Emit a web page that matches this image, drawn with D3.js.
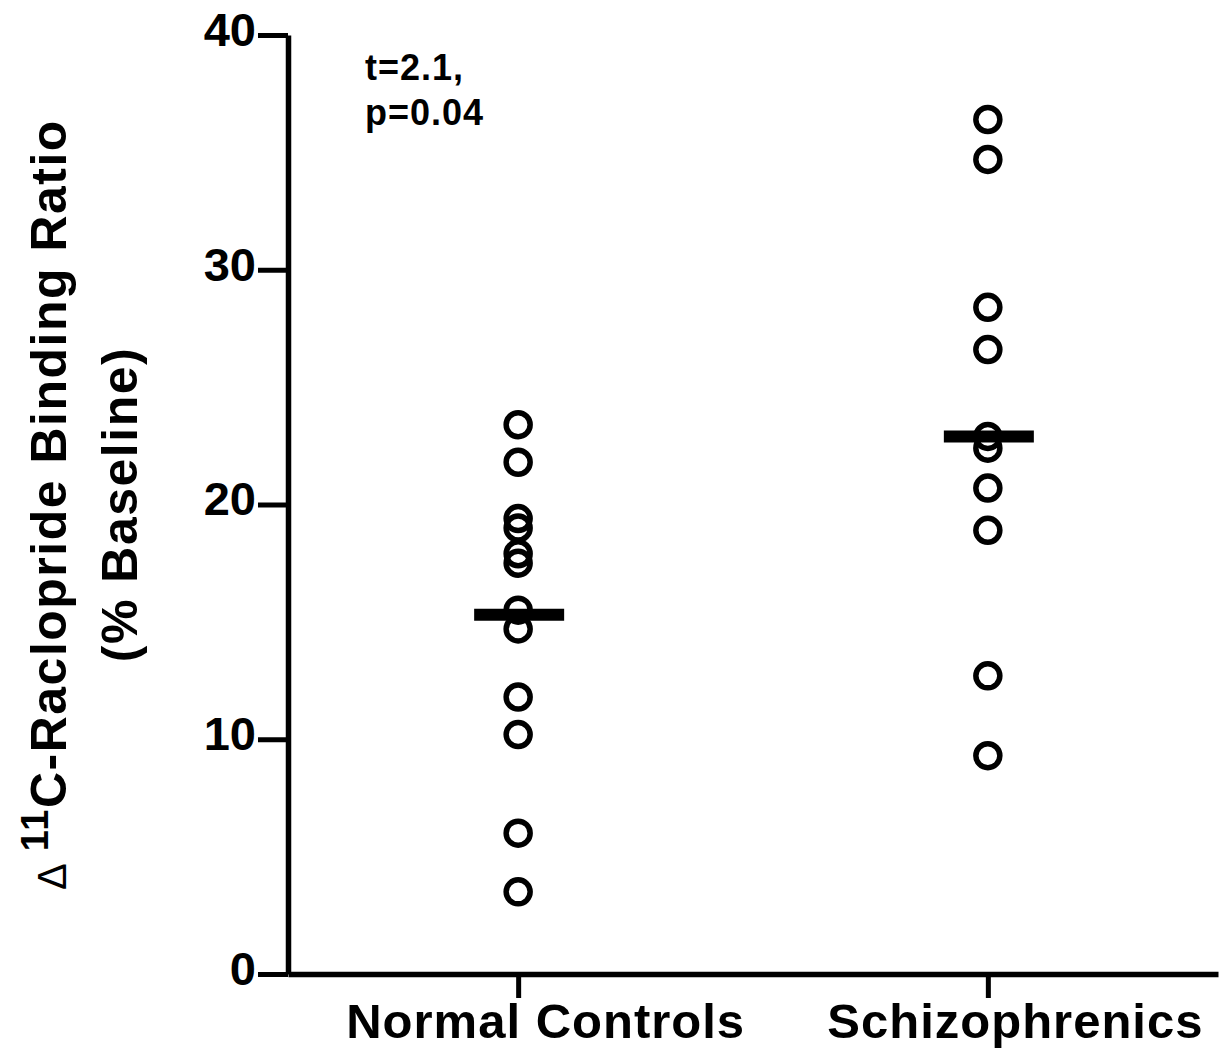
<html>
<head>
<title>Raclopride binding</title>
<style>
body {
	margin: 0;
	background: white;
	font-family: 'Liberation Sans', Arial, Helvetica, sans-serif;
}
svg {
	display: block;
}
.axis path, .axis line {
	stroke: black;
}
.axis text {
	fill: black;
	font-weight: bold;
}
</style>
</head>
<body>
<svg width="1219" height="1059"></svg>
<script src="https://d3js.org/d3.v7.min.js"></script>
<script>
// Data
const groups = ["Normal Controls", "Schizophrenics"];
const normalControls = [23.4, 21.8, 19.4, 19.0, 17.9, 17.5, 15.5, 14.7, 11.8, 10.2, 6.0, 3.5];
const schizophrenics = [36.4, 34.7, 28.4, 26.6, 22.9, 22.4, 20.7, 18.9, 12.7, 9.3];
const groupMeans = [15.3, 22.9];
const yTicks = [0, 10, 20, 30, 40];
const statLines = ["t=2.1,", "p=0.04"];

let svg = d3.select("svg");

// scales
let x = d3.scalePoint().domain(groups).range([288, 1218]).padding(0.49);
let y = d3.scaleLinear().domain([0, 40]).range([974, 35]);

// flatten points
let points = [];
normalControls.forEach(function(v) { points.push({group: groups[0], value: v}); });
schizophrenics.forEach(function(v) { points.push({group: groups[1], value: v}); });

// x axis
let xAxis = svg.append("g")
	.attr("class", "axis")
	.attr("transform", "translate(0," + y(0) + ")")
	.call(d3.axisBottom(x).tickSize(24).tickSizeOuter(0).tickPadding(5));
xAxis.select(".domain").attr("stroke-width", 5.5);
xAxis.selectAll(".tick line").attr("stroke-width", 5);
xAxis.selectAll(".tick text")
	.attr("font-size", 49)
	.attr("letter-spacing", 1)
	.attr("dx", 27);

// y axis
let yAxis = svg.append("g")
	.attr("class", "axis")
	.attr("transform", "translate(" + x.range()[0] + ",0)")
	.call(d3.axisLeft(y).tickValues(yTicks).tickSize(30).tickSizeOuter(0).tickPadding(2));
yAxis.select(".domain").attr("stroke-width", 5.5);
yAxis.selectAll(".tick line").attr("stroke-width", 5);
yAxis.selectAll(".tick text")
	.attr("font-size", 47)
	.attr("dy", "0.22em");

// y axis title
let midY = (y(0) + y(40)) / 2;
let title = svg.append("text")
	.attr("transform", "translate(66," + midY + ") rotate(-90)")
	.attr("text-anchor", "middle")
	.attr("font-weight", "bold")
	.attr("font-size", 50)
	.attr("letter-spacing", 1.5);
title.append("tspan").attr("font-weight", "normal").attr("font-size", 40).text("\u0394 ");
title.append("tspan").attr("font-size", 38).attr("dy", -18).text("11");
title.append("tspan").attr("dy", 18).text("C-Raclopride Binding Ratio");

svg.append("text")
	.attr("transform", "translate(137," + midY + ") rotate(-90)")
	.attr("text-anchor", "middle")
	.attr("font-weight", "bold")
	.attr("font-size", 50)
	.attr("letter-spacing", 1.5)
	.text("(% Baseline)");

// t-test annotation
svg.selectAll(".stat")
	.data(statLines)
	.enter()
	.append("text")
	.attr("class", "stat")
	.attr("x", 365)
	.attr("y", function(d, i) { return 80 + i * 45; })
	.attr("font-weight", "bold")
	.attr("font-size", 36)
	.attr("letter-spacing", 1)
	.text(function(d) { return d; });

// open circles
svg.selectAll("circle")
	.data(points)
	.enter()
	.append("circle")
	.attr("cx", function(d) { return x(d.group); })
	.attr("cy", function(d) { return y(d.value); })
	.attr("r", 12)
	.attr("fill", "none")
	.attr("stroke", "black")
	.attr("stroke-width", 5.5);

// group mean bars
svg.selectAll(".mean")
	.data(groupMeans)
	.enter()
	.append("line")
	.attr("class", "mean")
	.attr("x1", function(d, i) { return x(groups[i]) - 44; })
	.attr("x2", function(d, i) { return x(groups[i]) + 46; })
	.attr("y1", function(d) { return y(d); })
	.attr("y2", function(d) { return y(d); })
	.attr("stroke", "black")
	.attr("stroke-width", 12);
</script>
</body>
</html>
